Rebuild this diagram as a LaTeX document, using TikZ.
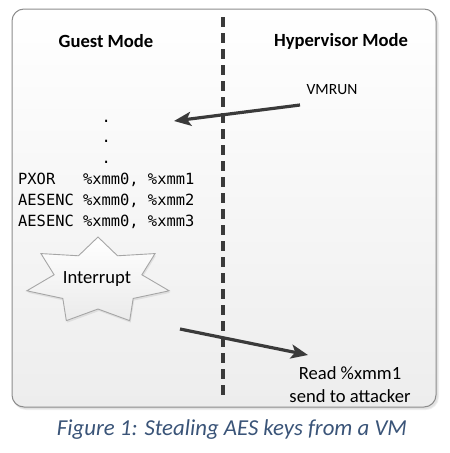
\documentclass[tikz,border=0pt]{standalone}
\usepackage{fontspec}
\setmainfont{Carlito}
\setmonofont{DejaVu Sans Mono}
\usetikzlibrary{arrows.meta}
\definecolor{boxborder}{HTML}{8C8C8C}
\definecolor{boxbot}{HTML}{EDEDED}
\definecolor{linecol}{HTML}{3A3A3A}
\definecolor{captioncol}{HTML}{3A5478}
\definecolor{starborder}{HTML}{A6A6A6}
\tikzset{
  modehead/.style={font=\fontsize{18.6}{20}\selectfont\bfseries, text=black, inner sep=0},
  plain/.style={font=\fontsize{18.6}{20}\selectfont, text=black, inner sep=0},
  small/.style={font=\fontsize{15.6}{18}\selectfont, text=black, inner sep=0},
  code/.style={font=\fontsize{15.4}{20}\selectfont\ttfamily, text=black, inner sep=0, anchor=base west},
  flow/.style={draw=linecol, line width=3.2pt, -{Stealth[length=17pt,width=14pt,inset=4pt]}},
  divider/.style={draw=linecol, line width=3.2pt, dash pattern=on 10pt off 6pt},
}
\begin{document}
\begin{tikzpicture}[x=1pt,y=-1pt]
\useasboundingbox (0,0) rectangle (450,453);
% shadow
\fill[black, opacity=0.06, rounded corners=13pt] (13,11) rectangle (439,410);
\fill[black, opacity=0.06, rounded corners=12pt] (13,10) rectangle (438,409);
% box
\shade[top color=white, bottom color=boxbot, rounded corners=12pt] (12,9) rectangle (436,407);
\draw[boxborder, line width=1pt, rounded corners=12pt] (12,9) rectangle (436,407);
% divider
\coordinate (dtop) at (223,17);
\coordinate (dbot) at (223,398);
\draw[divider] (dtop) -- (dbot);
% headers
\node[modehead] (guest) at (106,41) {Guest Mode};
\node[modehead] (hyper) at (341,41) {Hypervisor Mode};
% VMRUN
\node[small] (vmrun) at (332,90) {VMRUN};
\coordinate (a1s) at (300,105);
\coordinate (a1e) at (174,121);
\draw[flow] (a1s) -- (a1e);
% code
\node[code] (d1) at (18,122) {\hphantom{XXXXXXXXX}.};
\node[code] (d2) at (18,142.7) {\hphantom{XXXXXXXXX}.};
\node[code] (d3) at (18,163.4) {\hphantom{XXXXXXXXX}.};
\node[code] (c1) at (18,184.6) {PXOR\hphantom{XXX}\%xmm0, \%xmm1};
\node[code] (c2) at (18,205.3) {AESENC \%xmm0, \%xmm2};
\node[code] (c3) at (18,226) {AESENC \%xmm0, \%xmm3};
% star
\fill[black, opacity=0.08] ({99+73*cos(90)},{283-44*sin(90)})
  \foreach \i in {0,...,6}{
    -- ({99+45*cos(90+\i*360/7+360/14)},{283-28*sin(90+\i*360/7+360/14)})
    -- ({99+73*cos(90+(\i+1)*360/7)},{283-44*sin(90+(\i+1)*360/7)})
  } -- cycle;
\shade[top color=white, bottom color=white!92!black]
  ({98+73*cos(90)},{281-44*sin(90)})
  \foreach \i in {0,...,6}{
    -- ({98+45*cos(90+\i*360/7+360/14)},{281-28*sin(90+\i*360/7+360/14)})
    -- ({98+73*cos(90+(\i+1)*360/7)},{281-44*sin(90+(\i+1)*360/7)})
  } -- cycle;
\draw[starborder, line width=0.9pt]
  ({98+73*cos(90)},{281-44*sin(90)})
  \foreach \i in {0,...,6}{
    -- ({98+45*cos(90+\i*360/7+360/14)},{281-28*sin(90+\i*360/7+360/14)})
    -- ({98+73*cos(90+(\i+1)*360/7)},{281-44*sin(90+(\i+1)*360/7)})
  } -- cycle;
\node[plain] (intr) at (97,279) {Interrupt};
% second arrow
\coordinate (a2s) at (180,329);
\coordinate (a2e) at (308,355);
\draw[flow] (a2s) -- (a2e);
\node[plain] (read) at (350,373) {Read \%xmm1};
\node[plain] (send) at (350,396) {send to attacker};
% caption
\node[font=\fontsize{22.8}{26}\selectfont\itshape, text=captioncol, inner sep=0] (cap) at (232,430) {Figure 1: Stealing AES keys from a VM};
\end{tikzpicture}
\end{document}
